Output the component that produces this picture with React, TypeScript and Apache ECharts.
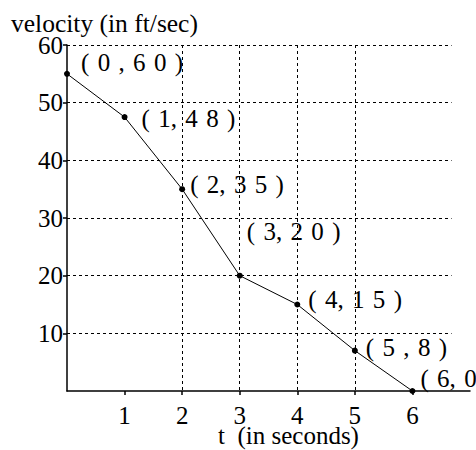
import React, { useEffect, useRef } from "react";
import * as echarts from "echarts";

const times = [0, 1, 2, 3, 4, 5, 6];
const velocities = [55, 47.5, 35, 20, 15, 7, 0];
const pointLabels = ["( 0 , 6 0 )", "( 1, 4 8 )", "( 2, 3 5 )", "( 3, 2 0 )", "( 4, 1 5 )", "( 5 , 8 )", "( 6, 0 )"];
const xTicks = [1, 2, 3, 4, 5, 6];
const yTicks = [10, 20, 30, 40, 50, 60];
const yTitle = "velocity (in ft/sec)";
const xTitle = "t  (in seconds)";

// styling only
const labelOffsets = [[11, -11], [14, 1], [5, -5], [4, -44], [8, -5], [8, -3], [5, -13]];
const hGridEnd = 6.68;
const FONT = "Liberation Serif";
const wide = (s: string) => s.replace(/ /g, "\u2004");

export default function App() {
  const ref = useRef<HTMLDivElement>(null);
  useEffect(() => {
    if (!ref.current) return;
    const chart = echarts.init(ref.current, null, { renderer: "svg" });
    const data = times.map((t, i) => ({
      value: [t, velocities[i]],
      label: {
        formatter: wide(pointLabels[i]),
        offset: labelOffsets[i],
      },
    }));
    const dash = { color: "#000", type: [3, 3] as number[], width: 1 };
    chart.setOption({
      animation: false,
      backgroundColor: "#fff",
      grid: { left: 67, right: 6, top: 45, bottom: 59, containLabel: false },
      xAxis: {
        type: "value",
        min: 0,
        max: 7,
        interval: 1,
        axisLine: { lineStyle: { color: "#000", width: 1.5 } },
        axisTick: { show: true, length: 4, customValues: xTicks, lineStyle: { color: "#000", width: 1.5 } },
        axisLabel: {
          customValues: xTicks,
          color: "#000",
          fontFamily: FONT,
          fontSize: 25,
          margin: 12,
        },
        splitLine: {
          show: true,
          showMinLine: false,
          showMaxLine: false,
          lineStyle: dash,
        },
      },
      yAxis: {
        type: "value",
        min: 0,
        max: 60,
        interval: 10,
        axisLine: { show: true, lineStyle: { color: "#000", width: 1.5 } },
        axisTick: { show: true, length: 4, customValues: yTicks, lineStyle: { color: "#000", width: 1.5 } },
        axisLabel: {
          customValues: yTicks,
          color: "#000",
          fontFamily: FONT,
          fontSize: 25,
          margin: 4,
          padding: [8, 0, 0, 0],
        },
        splitLine: { show: false },
      },
      graphic: [
        {
          type: "text",
          left: 11,
          top: 10,
          style: { text: yTitle, font: `25.5px ${FONT}`, fill: "#000" },
        },
        {
          type: "text",
          left: 218,
          top: 423,
          style: { text: xTitle, font: `25px ${FONT}`, fill: "#000" },
        },
      ],
      series: [
        {
          type: "line",
          data,
          symbol: "circle",
          symbolSize: 6,
          lineStyle: { color: "#000", width: 1 },
          itemStyle: { color: "#000" },
          label: {
            show: true,
            position: "right",
            distance: 0,
            color: "#000",
            fontFamily: FONT,
            fontSize: 25,
          },
          clip: false,
          markLine: {
            silent: true,
            symbol: ["none", "none"],
            label: { show: false },
            lineStyle: dash,
            data: yTicks.map((v) => [{ coord: [0, v] }, { coord: [hGridEnd, v] }]),
          },
        },
      ],
    });
    return () => chart.dispose();
  }, []);
  return (
    <div
      ref={ref}
      style={{ position: "fixed", left: 0, top: 0, width: 476, height: 450 }}
    />
  );
}
